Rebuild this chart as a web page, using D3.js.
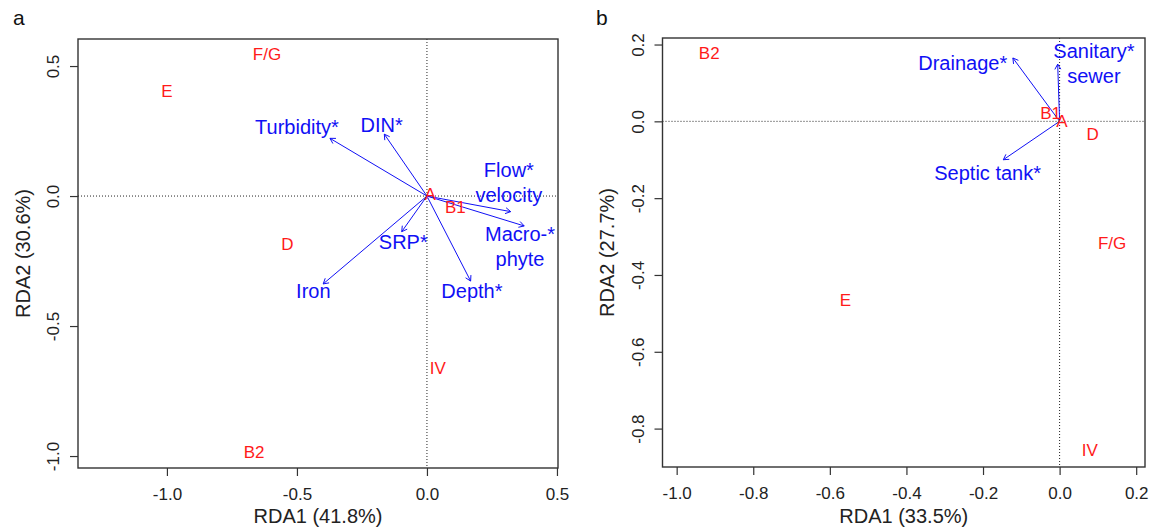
<!DOCTYPE html>
<html>
<head>
<meta charset="utf-8">
<script src="https://cdn.jsdelivr.net/npm/d3@7"></script>
<style>
  html, body { margin: 0; padding: 0; background: #fff; }
  svg { display: block; }
  text { font-family: "Liberation Sans", Arial, sans-serif; }
</style>
</head>
<body>
<svg id="chart" width="1162" height="528"></svg>
<script>
// ---------- data ----------
const siteLabels = ["A", "B1", "B2", "D", "E", "F/G", "IV"];

// Panel a: site scores
const siteA_x = [0.012, 0.109, -0.665, -0.537, -1.0, -0.615, 0.042];
const siteA_y = [0.008, -0.044, -0.985, -0.185, 0.404, 0.546, -0.66];
// Panel a: environmental vectors
const varA_names = ["Turbidity*", "DIN*", "Flow*\nvelocity", "Macro-*\nphyte", "SRP*", "Iron", "Depth*"];
const varA_x = [-0.373, -0.164, 0.322, 0.374, -0.097, -0.399, 0.168];
const varA_y = [0.222, 0.238, -0.060, -0.115, -0.137, -0.338, -0.327];
const varA_lx = [-0.50, -0.174, 0.315, 0.358, -0.091, -0.437, 0.173];
const varA_ly = [0.264, 0.273, 0.052, -0.195, -0.178, -0.367, -0.367];
const ticksA_x = [-1.0, -0.5, 0.0, 0.5];
const ticksA_y = [-1.0, -0.5, 0.0, 0.5];

// Panel b: site scores
const siteB_x = [0.006, -0.0235, -0.915, 0.086, -0.559, 0.137, 0.079];
const siteB_y = [0.001, 0.022, 0.178, -0.033, -0.464, -0.316, -0.855];
// Panel b: environmental vectors
const varB_names = ["Drainage*", "Sanitary*\nsewer", "Septic tank*"];
const varB_x = [-0.122, -0.005, -0.147];
const varB_y = [0.165, 0.149, -0.100];
const varB_lx = [-0.253, 0.0896, -0.188];
const varB_ly = [0.152, 0.151, -0.134];
const ticksB_x = [-1.0, -0.8, -0.6, -0.4, -0.2, 0.0, 0.2];
const ticksB_y = [-0.8, -0.6, -0.4, -0.2, 0.0, 0.2];

const titlesX = ["RDA1 (41.8%)", "RDA1 (33.5%)"];
const titlesY = ["RDA2 (30.6%)", "RDA2 (27.7%)"];
const panelLetters = ["a", "b"];

// ---------- drawing ----------
const svg = d3.select("#chart");
const fmt = v => d3.format(".1f")(v).replace("\u2212", "-");

const panels = [
  { letter: panelLetters[0], lx: 13,
    box: { l: 78, r: 558, t: 39, b: 468 },
    xd: [-1.342, 0.504], yd: [-1.046, 0.604],
    xt: ticksA_x, yt: ticksA_y, tx: titlesX[0], ty: titlesY[0], tyx: 29.5,
    sx: siteA_x, sy: siteA_y,
    vn: varA_names, vx: varA_x, vy: varA_y, vlx: varA_lx, vly: varA_ly },
  { letter: panelLetters[1], lx: 596,
    box: { l: 662.5, r: 1145, t: 38, b: 467 },
    xd: [-1.037, 0.223], yd: [-0.90, 0.217],
    xt: ticksB_x, yt: ticksB_y, tx: titlesX[1], ty: titlesY[1], tyx: 614,
    sx: siteB_x, sy: siteB_y,
    vn: varB_names, vx: varB_x, vy: varB_y, vlx: varB_lx, vly: varB_ly }
];

const blue = "#1010f5";
const red = "#ff1a1a";
const axisCol = "#333";

panels.forEach(p => {
  const B = p.box;
  const x = d3.scaleLinear().domain(p.xd).range([B.l, B.r]);
  const y = d3.scaleLinear().domain(p.yd).range([B.b, B.t]);
  const g = svg.append("g");

  // panel letter
  g.append("text").attr("x", p.lx).attr("y", 25)
    .attr("font-family", "'Open Sans', 'DejaVu Sans', sans-serif")
    .attr("font-size", 21).attr("fill", "#111").text(p.letter);

  // zero lines (dotted)
  g.append("line").attr("x1", B.l).attr("x2", B.r).attr("y1", y(0)).attr("y2", y(0))
    .attr("stroke", "#222").attr("stroke-width", 1).attr("stroke-dasharray", "1,2");
  g.append("line").attr("y1", B.t).attr("y2", B.b).attr("x1", x(0)).attr("x2", x(0))
    .attr("stroke", "#222").attr("stroke-width", 1).attr("stroke-dasharray", "1,2");

  // x axis
  const xa = g.append("g").attr("transform", `translate(0,${B.b})`)
    .call(d3.axisBottom(x).tickValues(p.xt).tickSize(8).tickPadding(12).tickFormat(fmt));
  xa.select(".domain").remove();
  xa.selectAll("line").attr("stroke", axisCol).attr("stroke-width", 1.2);
  xa.selectAll("text").attr("font-size", 17).attr("fill", "#222")
    .attr("font-family", "'Liberation Sans', Arial, sans-serif");

  // y axis
  const ya = g.append("g").attr("transform", `translate(${B.l},0)`)
    .call(d3.axisLeft(y).tickValues(p.yt).tickSize(8).tickFormat(fmt));
  ya.select(".domain").remove();
  ya.selectAll("line").attr("stroke", axisCol).attr("stroke-width", 1.2);
  ya.selectAll("text").attr("font-size", 17).attr("fill", "#222")
    .attr("font-family", "'Liberation Sans', Arial, sans-serif")
    .attr("x", null).attr("dy", null).attr("text-anchor", "middle")
    .attr("transform", "translate(-19,0) rotate(-90)");

  // box
  g.append("rect").attr("x", B.l).attr("y", B.t).attr("width", B.r - B.l).attr("height", B.b - B.t)
    .attr("fill", "none").attr("stroke", axisCol).attr("stroke-width", 1.4);

  // axis titles
  g.append("text").attr("x", (B.l + B.r) / 2).attr("y", 523).attr("text-anchor", "middle")
    .attr("font-size", 20).attr("fill", "#222").text(p.tx);
  g.append("text").attr("transform", `translate(${p.tyx},${(B.t + B.b) / 2}) rotate(-90)`)
    .attr("text-anchor", "middle").attr("font-size", 20).attr("fill", "#222").text(p.ty);

  // arrows
  const ah = 6, ang = Math.PI / 6;
  p.vx.forEach((vx, i) => {
    const x0 = x(0), y0 = y(0), x1 = x(vx), y1 = y(p.vy[i]);
    const a = Math.atan2(y1 - y0, x1 - x0);
    const path = `M${x0},${y0}L${x1},${y1}` +
      `M${x1 - ah * Math.cos(a - ang)},${y1 - ah * Math.sin(a - ang)}L${x1},${y1}` +
      `L${x1 - ah * Math.cos(a + ang)},${y1 - ah * Math.sin(a + ang)}`;
    g.append("path").attr("d", path).attr("fill", "none")
      .attr("stroke", blue).attr("stroke-width", 1);
  });

  // variable labels
  const lh = 25;
  p.vn.forEach((name, i) => {
    const lines = name.split("\n");
    const cx = x(p.vlx[i]), cy = y(p.vly[i]);
    const t = g.append("text").attr("text-anchor", "middle").attr("font-size", 20).attr("fill", blue);
    lines.forEach((ln, j) => {
      t.append("tspan").attr("x", cx)
        .attr("y", cy - (lines.length - 1) * lh / 2 + j * lh + 7).text(ln);
    });
  });

  // site labels
  siteLabels.forEach((s, i) => {
    g.append("text").attr("x", x(p.sx[i])).attr("y", y(p.sy[i]) + 6)
      .attr("text-anchor", "middle").attr("font-size", 17).attr("fill", red).text(s);
  });
});
</script>
</body>
</html>
